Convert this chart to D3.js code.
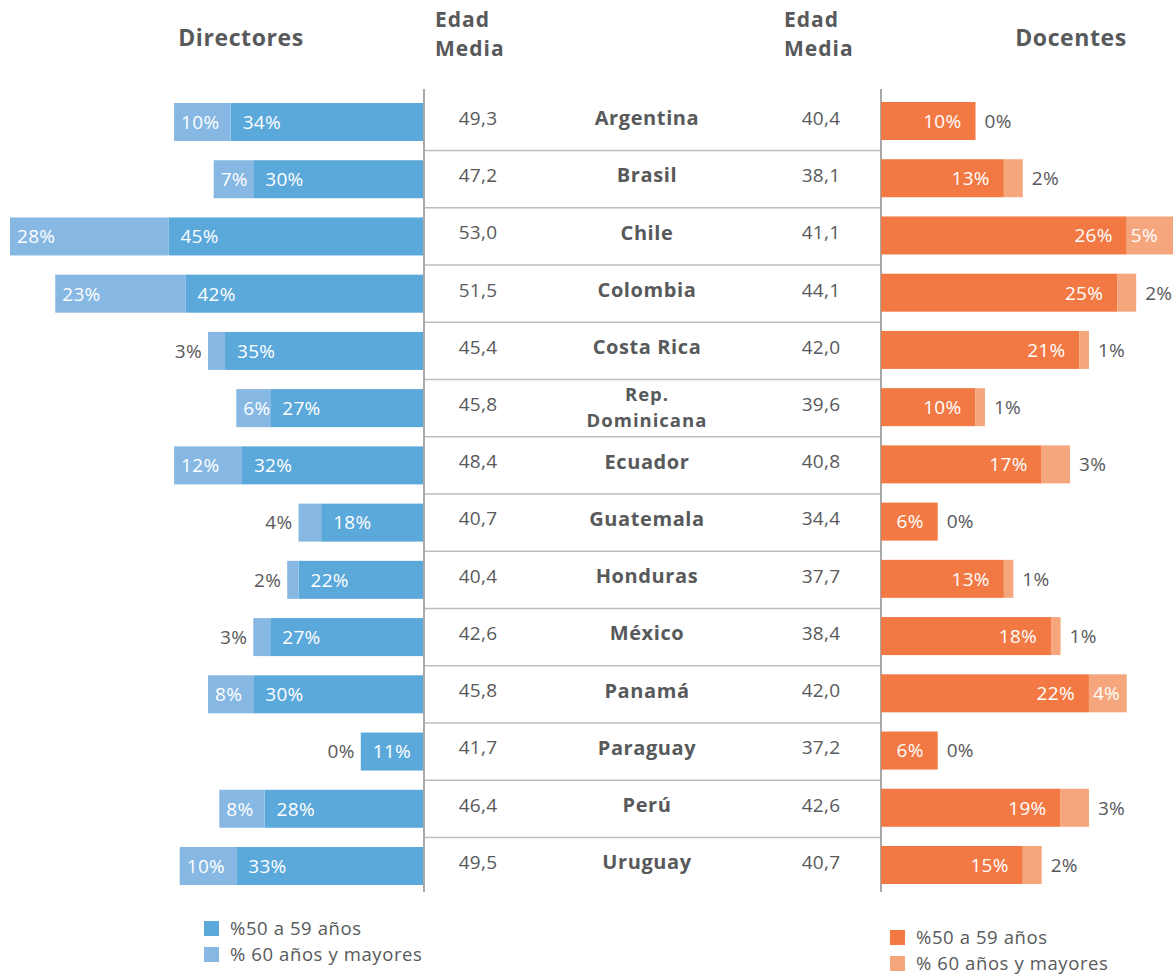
<!DOCTYPE html>
<html lang="es">
<head>
<meta charset="utf-8">
<script src="https://cdn.jsdelivr.net/npm/d3@7"></script>
<style>
  html, body { margin: 0; padding: 0; background: #fff; }
  svg { display: block; }
  text { font-family: "Open Sans", "Noto Sans", sans-serif; }
</style>
</head>
<body>
<svg id="chart" width="1173" height="974"></svg>
<script>
// Países
const countries = ["Argentina", "Brasil", "Chile", "Colombia", "Costa Rica", "Rep. Dominicana",
  "Ecuador", "Guatemala", "Honduras", "México", "Panamá", "Paraguay", "Perú", "Uruguay"];

// Directores: % de 50 a 59 años y % de 60 años y mayores
const dir50 = [34, 30, 45, 42, 35, 27, 32, 18, 22, 27, 30, 11, 28, 33];
const dir60 = [10, 7, 28, 23, 3, 6, 12, 4, 2, 3, 8, 0, 8, 10];

// Docentes: % de 50 a 59 años y % de 60 años y mayores
const doc50 = [10, 13, 26, 25, 21, 10, 17, 6, 13, 18, 22, 6, 19, 15];
const doc60 = [0, 2, 5, 2, 1, 1, 3, 0, 1, 1, 4, 0, 3, 2];

// Edad media
const edadDir = [49.3, 47.2, 53.0, 51.5, 45.4, 45.8, 48.4, 40.7, 40.4, 42.6, 45.8, 41.7, 46.4, 49.5];
const edadDoc = [40.4, 38.1, 41.1, 44.1, 42.0, 39.6, 40.8, 34.4, 37.7, 38.4, 42.0, 37.2, 42.6, 40.7];

// Textos de leyenda y encabezados
const legendLabels = ["%50 a 59 años", "% 60 años y mayores"];
const headers = { dir: "Directores", doc: "Docentes", edad: ["Edad", "Media"] };

const C = {
  dirDark: "#5ba8db", dirLight: "#86b8e3",
  docDark: "#f27943", docLight: "#f6a67d",
  text: "#58595b", rule: "#bdbdbd", axis: "#a8a8a8"
};

const svg = d3.select("#chart");
const es = d3.formatLocale({ decimal: ",", thousands: ".", grouping: [3], currency: ["", ""] });
const fmtAge = es.format(".1f");
const pct = v => v + "%";
const numSize = 19, numSpacing = 0.3;

const rows = countries.map((c, i) => ({
  country: c, d50: dir50[i], d60: dir60[i], t50: doc50[i], t60: doc60[i],
  eDir: edadDir[i], eDoc: edadDoc[i]
}));

// Escalas
const y = d3.scalePoint().domain(countries).range([122, 866]);
const barH = 38;
const xL = d3.scaleLinear().domain([0, 73]).range([423, 10]);   // crece hacia la izquierda
const xR = d3.scaleLinear().domain([0, 31]).range([881, 1174]); // crece hacia la derecha
const colEdadL = 478, colName = 647, colEdadR = 821;

// Separadores horizontales entre filas
const mids = countries.slice(1).map((c, i) => (y(countries[i]) + y(c)) / 2);
svg.append("g").selectAll("line").data(mids).join("line")
  .attr("x1", 425).attr("x2", 880)
  .attr("y1", d => d).attr("y2", d => d)
  .attr("stroke", C.rule).attr("stroke-width", 1.5);

// Ejes verticales
svg.append("g").selectAll("line").data([424, 881]).join("line")
  .attr("x1", d => d).attr("x2", d => d)
  .attr("y1", 89).attr("y2", 892)
  .attr("stroke", C.axis).attr("stroke-width", 2);

// ---- Directores (izquierda) ----
const gL = svg.append("g").attr("font-size", numSize).attr("letter-spacing", numSpacing);
gL.selectAll("rect.d50").data(rows).join("rect").attr("class", "d50")
  .attr("x", d => xL(d.d50)).attr("width", d => xL(0) - xL(d.d50))
  .attr("y", d => y(d.country) - barH / 2).attr("height", barH)
  .attr("fill", C.dirDark);
gL.selectAll("rect.d60").data(rows.filter(d => d.d60 > 0)).join("rect").attr("class", "d60")
  .attr("x", d => xL(d.d50 + d.d60)).attr("width", d => xL(d.d50) - xL(d.d50 + d.d60))
  .attr("y", d => y(d.country) - barH / 2).attr("height", barH)
  .attr("fill", C.dirLight);

gL.selectAll("text.l50").data(rows).join("text").attr("class", "l50")
  .attr("x", d => xL(d.d50) + 12).attr("y", d => y(d.country))
  .attr("dy", "0.36em").attr("fill", "#fff")
  .text(d => pct(d.d50));
gL.selectAll("text.l60").data(rows).join("text").attr("class", "l60")
  .each(function (d) {
    const w = xL(d.d50) - xL(d.d50 + d.d60);
    const inside = w >= 30;
    d3.select(this)
      .attr("x", inside ? xL(d.d50 + d.d60) + 7 : xL(d.d50 + d.d60) - 6)
      .attr("text-anchor", inside ? "start" : "end")
      .attr("fill", inside ? "#fff" : C.text);
  })
  .attr("y", d => y(d.country)).attr("dy", "0.36em")
  .text(d => pct(d.d60));

// ---- Docentes (derecha) ----
const gR = svg.append("g").attr("font-size", numSize).attr("letter-spacing", numSpacing);
gR.selectAll("rect.t50").data(rows).join("rect").attr("class", "t50")
  .attr("x", xR(0)).attr("width", d => xR(d.t50) - xR(0))
  .attr("y", d => y(d.country) - barH / 2 - 1).attr("height", barH)
  .attr("fill", C.docDark);
gR.selectAll("rect.t60").data(rows.filter(d => d.t60 > 0)).join("rect").attr("class", "t60")
  .attr("x", d => xR(d.t50)).attr("width", d => xR(d.t50 + d.t60) - xR(d.t50))
  .attr("y", d => y(d.country) - barH / 2 - 1).attr("height", barH)
  .attr("fill", C.docLight);

gR.selectAll("text.r50").data(rows).join("text").attr("class", "r50")
  .attr("x", d => xR(d.t50) - 14).attr("text-anchor", "end")
  .attr("y", d => y(d.country) - 1).attr("dy", "0.36em")
  .attr("fill", "#fff")
  .text(d => pct(d.t50));
gR.selectAll("text.r60").data(rows).join("text").attr("class", "r60")
  .each(function (d) {
    const w = xR(d.t50 + d.t60) - xR(d.t50);
    const inside = w >= 30;
    d3.select(this)
      .attr("x", inside ? xR(d.t50) + 4 : xR(d.t50 + d.t60) + 9)
      .attr("fill", inside ? "#fff" : C.text);
  })
  .attr("y", d => y(d.country) - 1).attr("dy", "0.36em")
  .text(d => pct(d.t60));

// ---- Columnas centrales ----
const gM = svg.append("g").attr("text-anchor", "middle").attr("fill", C.text);
gM.selectAll("text.eL").data(rows).join("text").attr("class", "eL")
  .attr("x", colEdadL).attr("y", d => y(d.country) - 4).attr("dy", "0.36em")
  .attr("font-size", numSize).attr("letter-spacing", numSpacing).text(d => fmtAge(d.eDir));
gM.selectAll("text.eR").data(rows).join("text").attr("class", "eR")
  .attr("x", colEdadR).attr("y", d => y(d.country) - 4).attr("dy", "0.36em")
  .attr("font-size", numSize).attr("letter-spacing", numSpacing).text(d => fmtAge(d.eDoc));

// Nombres de país (Rep. Dominicana en dos líneas)
const nameLines = rows.flatMap(d => {
  const two = d.country === "Rep. Dominicana";
  const parts = two ? ["Rep.", "Dominicana"] : [d.country];
  const c = y(d.country) - 4;
  return parts.map((p, k) => ({ text: p, y: two ? c - 10 + k * 26 : c, two }));
});
gM.selectAll("text.name").data(nameLines).join("text").attr("class", "name")
  .attr("x", colName).attr("y", d => d.y).attr("dy", "0.36em")
  .attr("font-size", d => d.two ? 18.5 : 20).attr("font-weight", 700)
  .attr("letter-spacing", d => d.two ? 1 : 0.6)
  .text(d => d.text);

// ---- Encabezados ----
const gH = svg.append("g").attr("fill", C.text).attr("font-weight", 700);
gH.append("text").attr("x", 241).attr("y", 46).attr("text-anchor", "middle")
  .attr("font-size", 23).attr("letter-spacing", 0.6).text(headers.dir);
gH.append("text").attr("x", 1071).attr("y", 46).attr("text-anchor", "middle")
  .attr("font-size", 23).attr("letter-spacing", 0.6).text(headers.doc);
[435, 784].forEach(x => {
  headers.edad.forEach((w, k) => {
    gH.append("text").attr("x", x).attr("y", 27 + k * 29)
      .attr("font-size", 21).attr("letter-spacing", 1).text(w);
  });
});

// ---- Leyendas ----
function legend(x, y0, colors) {
  const g = svg.append("g");
  legendLabels.forEach((lab, i) => {
    const yy = y0 + i * 26;
    g.append("rect").attr("x", x).attr("y", yy - 7).attr("width", 15).attr("height", 15).attr("fill", colors[i]);
    g.append("text").attr("x", x + 26).attr("y", yy).attr("dy", "0.36em")
      .attr("font-size", 18.5).attr("letter-spacing", 0.6).attr("fill", C.text).text(lab);
  });
}
legend(204, 928, [C.dirDark, C.dirLight]);
legend(890, 937, [C.docDark, C.docLight]);
</script>
</body>
</html>
